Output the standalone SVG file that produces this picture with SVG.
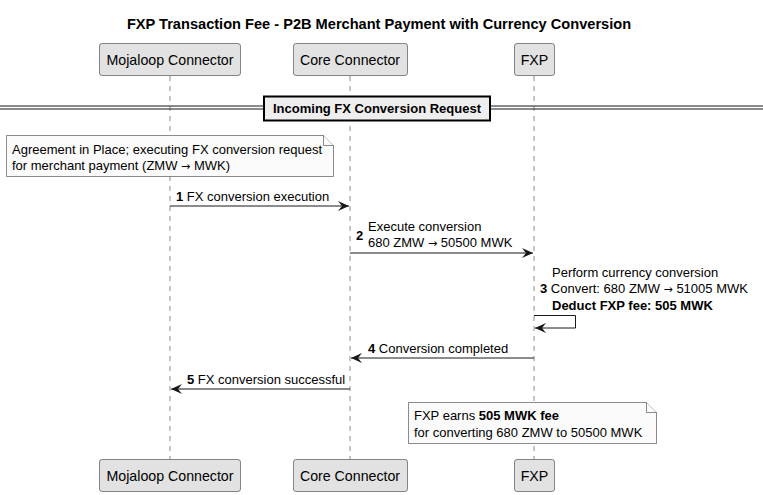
<svg xmlns="http://www.w3.org/2000/svg" width="763" height="495" viewBox="0 0 763 495">
<defs>
<style>
text{font-family:"Liberation Sans",Arial,sans-serif;font-size:13px;fill:#000}
.title{font-size:14.6px;font-weight:bold}
.part{fill:#E2E2E2;stroke:#181818;stroke-width:0.5}
.pt{font-size:14.2px;text-anchor:middle}
.life{stroke:#181818;stroke-width:0.5;stroke-dasharray:5,5;fill:none}
.msg{stroke:#181818;stroke-width:1;fill:none}
.note{fill:#FBFBFB;stroke:#181818;stroke-width:0.5}
.b{font-weight:bold}
.ar{font-family:"DejaVu Sans",sans-serif;font-size:11px}
</style>
<marker id="ah" viewBox="0 0 12 10" refX="11" refY="5" markerWidth="12" markerHeight="10" markerUnits="userSpaceOnUse" orient="auto">
<path d="M0,0 L11,5 L0,10 L4,5 Z" fill="#181818"/>
</marker>
</defs>
<rect width="763" height="495" fill="#FFFFFF"/>
<text class="title" x="379" y="29" text-anchor="middle">FXP Transaction Fee - P2B Merchant Payment with Currency Conversion</text>

<g id="lifelines">
<line class="life" x1="170" y1="76" x2="170" y2="459"/>
<line class="life" x1="350" y1="76" x2="350" y2="459"/>
<line class="life" x1="534" y1="76" x2="534" y2="459"/>
</g>

<g id="mojaloop">
<rect class="part" x="99.5" y="43.5" width="141" height="32" rx="2.5"/>
<text class="pt" x="170" y="65">Mojaloop Connector</text>
<rect class="part" x="99.5" y="459.5" width="141" height="32" rx="2.5"/>
<text class="pt" x="170" y="481">Mojaloop Connector</text>
</g>
<g id="core">
<rect class="part" x="293.5" y="43.5" width="114" height="32" rx="2.5"/>
<text class="pt" x="350" y="65">Core Connector</text>
<rect class="part" x="293.5" y="459.5" width="114" height="32" rx="2.5"/>
<text class="pt" x="350" y="481">Core Connector</text>
</g>
<g id="fxp">
<rect class="part" x="514.5" y="43.5" width="40" height="32" rx="2.5"/>
<text class="pt" x="534.5" y="65">FXP</text>
<rect class="part" x="514.5" y="459.5" width="40" height="32" rx="2.5"/>
<text class="pt" x="534.5" y="481">FXP</text>
</g>

<g id="divider">
<line x1="0" y1="106" x2="763" y2="106" stroke="#181818" stroke-width="1"/>
<line x1="0" y1="109" x2="763" y2="109" stroke="#181818" stroke-width="1"/>
<rect x="264" y="96.5" width="226" height="24" fill="#EEEEEE" stroke="#000" stroke-width="2"/>
<text x="377" y="113" text-anchor="middle" class="b">Incoming FX Conversion Request</text>
</g>

<g id="note1">
<path class="note" d="M6.5,135.5 H323.5 L333.5,145.5 V176.5 H6.5 Z"/>
<path class="note" d="M323.5,135.5 V145.5 H333.5" fill="none"/>
<text x="12" y="154">Agreement in Place; executing FX conversion request</text>
<text x="12" y="170">for merchant payment (ZMW <tspan class="ar">→</tspan> MWK)</text>
</g>

<g id="connectors">
<line class="msg" x1="170" y1="206" x2="349" y2="206" marker-end="url(#ah)"/>
<line class="msg" x1="350" y1="253" x2="533" y2="253" marker-end="url(#ah)"/>
<polyline class="msg" points="534,315.5 575.5,315.5 575.5,328 535,328" marker-end="url(#ah)"/>
<line class="msg" x1="534" y1="358" x2="351" y2="358" marker-end="url(#ah)"/>
<line class="msg" x1="350" y1="389" x2="171" y2="389" marker-end="url(#ah)"/>
</g>

<g id="labels">
<text x="176" y="201"><tspan class="b">1</tspan> FX conversion execution</text>
<text x="356" y="240" class="b">2</text>
<text x="368" y="231">Execute conversion</text>
<text x="368" y="247">680 ZMW <tspan class="ar">→</tspan> 50500 MWK</text>
<text x="552" y="277">Perform currency conversion</text>
<text x="540" y="293"><tspan class="b">3</tspan> Convert: 680 ZMW <tspan class="ar">→</tspan> 51005 MWK</text>
<text x="552" y="310" class="b">Deduct FXP fee: 505 MWK</text>
<text x="368" y="353"><tspan class="b">4</tspan> Conversion completed</text>
<text x="187" y="384"><tspan class="b">5</tspan> FX conversion successful</text>
</g>

<g id="note2">
<path class="note" d="M408.5,402.5 H646.5 L656.5,412.5 V443.5 H408.5 Z"/>
<path class="note" d="M646.5,402.5 V412.5 H656.5" fill="none"/>
<text x="414" y="420">FXP earns <tspan class="b">505 MWK fee</tspan></text>
<text x="414" y="437">for converting 680 ZMW to 50500 MWK</text>
</g>
</svg>
